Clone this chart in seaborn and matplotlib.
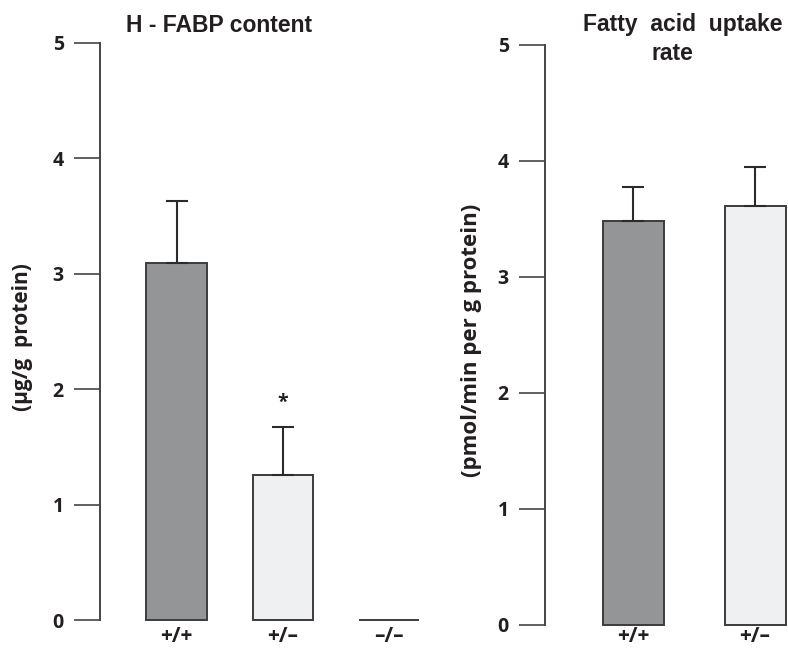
import seaborn as sns
import matplotlib.pyplot as plt
import pandas as pd

# data
genotypes_fabp = ['+/+', '+/\u2013', '\u2013/\u2013']
fabp_mean = [3.09, 1.26, 0.0]
fabp_err = [0.54, 0.41, 0.0]

genotypes_uptake = ['+/+', '+/\u2013']
uptake_mean = [3.48, 3.61]
uptake_err = [0.30, 0.34]

dark = '#939598'
light = '#eff0f1'
edge = '#3c3c3e'

sns.set_style('ticks')
plt.rcParams['font.family'] = ['Open Sans', 'DejaVu Sans']

fig = plt.figure(figsize=(7.88, 6.48), dpi=100)
ax1 = fig.add_axes([100/788, 28/648, 321/788, 577/648])
ax2 = fig.add_axes([545/788, 23/648, 243/788, 580/648])


def bar_panel(ax, cats, means, errs, width, xlim, ylabel, label_x, label_size, xpad):
    df = pd.DataFrame({'genotype': cats, 'value': means})
    colors = [dark, light, light][:len(cats)]
    sns.barplot(data=df, x='genotype', y='value', hue='genotype',
                palette=colors, width=width, edgecolor=edge, linewidth=1.4,
                legend=False, ax=ax)
    for i, (m, e) in enumerate(zip(means, errs)):
        if e > 0:
            ax.errorbar(i, m, yerr=[[0], [e]], color='#2b2b2b', lw=1.5,
                        capsize=8, capthick=1.5, zorder=1)
    ax.set_xlim(*xlim)
    ax.set_ylim(0, 5)
    ax.set_yticks(range(6))
    sns.despine(ax=ax, bottom=True)
    ax.spines['left'].set_color('#444444')
    ax.spines['left'].set_linewidth(1.4)
    ax.tick_params(axis='y', direction='out', length=19, width=1.2,
                   color='#444444', pad=7, labelsize=14)
    ax.tick_params(axis='x', length=0, pad=xpad, labelsize=15)
    for lab in ax.get_yticklabels() + ax.get_xticklabels():
        lab.set_fontweight('bold')
        lab.set_color('#231f20')
    ax.set_xlabel('')
    ax.set_ylabel(ylabel, fontsize=label_size, fontweight='bold', color='#231f20')
    ax.yaxis.set_label_coords(label_x, 0.49)
    for p in ax.patches:
        p.set_clip_on(False)


bar_panel(ax1, genotypes_fabp, fabp_mean, fabp_err, 0.57, (-0.72, 2.3),
          '(\u00b5g/g  protein)', -0.21, 15, 4)
ax1.text(1, 1.88, '*', ha='center', va='center', fontsize=14,
         fontweight='bold', color='#231f20')

bar_panel(ax2, genotypes_uptake, uptake_mean, uptake_err, 0.5, (-0.725, 1.27),
          '(pmol/min per g protein)', -0.26, 16, 1)

title_font = dict(family='Liberation Sans', fontsize=16.5, fontweight='bold',
                  color='#231f20', ha='center', va='center')
fig.text(219/788, 1 - 25/648, 'H - FABP content', **title_font)
fig.text(683/788, 1 - 25/648, 'Fatty  acid  uptake', **title_font)
fig.text(672/788, 1 - 54/648, 'rate', **title_font)

plt.savefig('out.png', dpi=100)
